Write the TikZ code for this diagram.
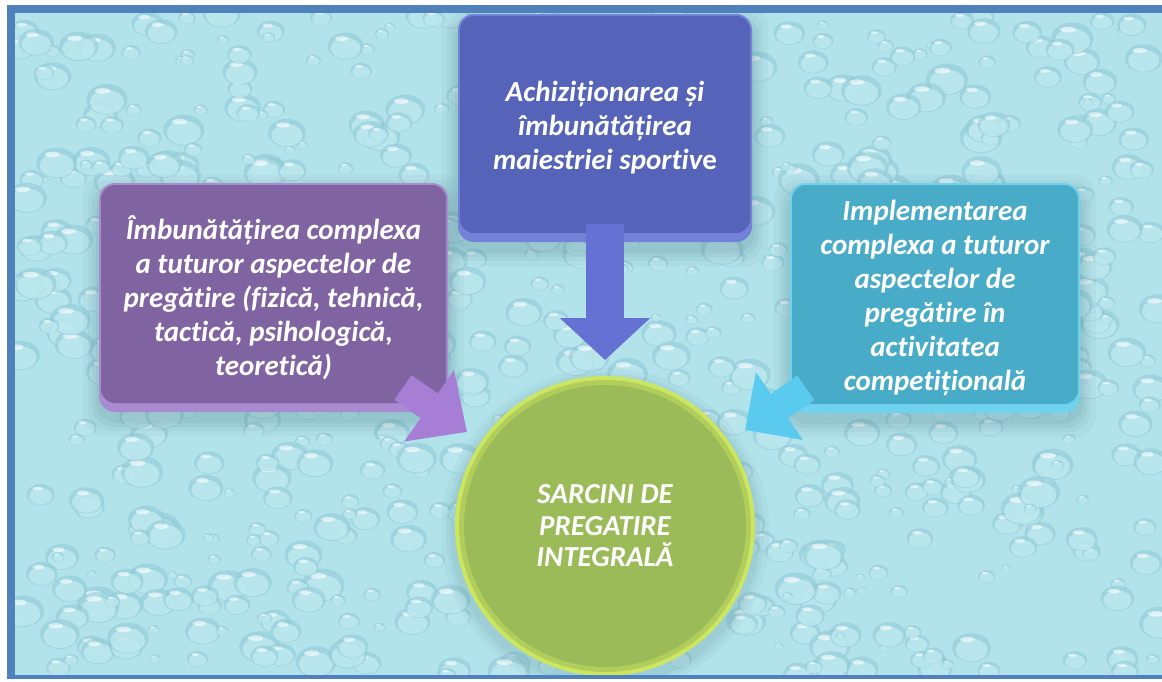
\documentclass[tikz,border=0pt]{standalone}
\usepackage{fontspec}
\setmainfont[Ligatures=NoCommon]{Carlito}
\usetikzlibrary{arrows.meta,calc}

\definecolor{frameblue}{HTML}{4F81BD}
\definecolor{water}{HTML}{B2E2EA}
\definecolor{dropedge}{HTML}{92CCD8}
\definecolor{dropbody}{HTML}{C3ECF2}
\definecolor{pbase}{HTML}{8064A2}
\definecolor{plight}{HTML}{A98BD0}
\definecolor{parrow}{HTML}{A67ED6}
\definecolor{bbase}{HTML}{5563B8}
\definecolor{blight}{HTML}{7381D8}
\definecolor{barrow}{HTML}{6572D4}
\definecolor{cbase}{HTML}{48ABC8}
\definecolor{clight}{HTML}{70D2EE}
\definecolor{carrow}{HTML}{5ACBEE}
\definecolor{gbase}{HTML}{9BBB59}
\definecolor{glight}{HTML}{CDE660}
\definecolor{shadecol}{HTML}{3E6E78}

\pgfdeclarelayer{texture}
\pgfdeclarelayer{shade}
\pgfdeclarelayer{rim}
\pgfsetlayers{texture,shade,main,rim}

\begin{document}
\begin{tikzpicture}[x=1pt,y=-1pt,
  label text/.style={text=white, align=center,
    font=\fontsize{29}{34}\selectfont\bfseries\itshape},
  task/.style 2 args={label text, inner sep=0pt, rounded corners=16pt, fill=#1,
    path picture={\fill[#2, rounded corners=14pt]
      ([xshift=2pt,yshift=-2pt]path picture bounding box.north west) rectangle
      ([xshift=-2pt,yshift=9pt]path picture bounding box.south east);}},
  hub/.style={label text, font=\fontsize{29}{31.5}\selectfont\bfseries\itshape,
    circle, inner sep=0pt, minimum size=300pt, fill=glight,
    path picture={
      \fill[gbase!55!glight] (path picture bounding box.center) circle (146pt);
      \fill[gbase] (path picture bounding box.center) circle (141pt);}},
  fat/.style 2 args={draw=#1, line width=#2, line cap=butt}
]

% ---- frame and water-drop backdrop ----
\begin{pgfonlayer}{texture}
  \fill[white] (0,0) rectangle (1162,681);
  \fill[frameblue] (7,5) rectangle (1162,679);
  \fill[water] (15,13) rectangle (1162,675);
  \begin{scope}
    \clip (15,13) rectangle (1162,675);
    \pgfmathsetseed{4711}
    \foreach \i in {1,...,760}{
      \pgfmathsetmacro\dx{15+1147*rnd}
      \pgfmathsetmacro\dy{13+662*rnd}
      \pgfmathsetmacro\dr{4+14*rnd}
      \pgfmathsetmacro\rx{\dr*1.2}
      \pgfmathsetmacro\ry{\dr*0.9}
      \pgfmathsetmacro\ix{\dr*1.0}
      \pgfmathsetmacro\iy{\dr*0.7}
      \pgfmathsetmacro\hx{\dr*0.45}
      \pgfmathsetmacro\hy{\dr*0.16}
      \fill[dropedge, opacity=.6]
        (\dx,\dy) ellipse [x radius=\rx pt, y radius=\ry pt];
      \fill[dropbody, opacity=.75]
        (\dx,\dy+\dr*0.15) ellipse [x radius=\ix pt, y radius=\iy pt];
      \fill[white, opacity=.6]
        (\dx-\dr*0.25,\dy-\dr*0.5) ellipse [x radius=\hx pt, y radius=\hy pt];
    }
  \end{scope}
\end{pgfonlayer}

% ---- task boxes and the central circle ----
\node[task={plight}{pbase}, minimum width=349pt, minimum height=229pt]
  (phys) at (273.5,297.5)
  {Îmbunătățirea complexa\\a tuturor aspectelor de\\pregătire (fizică, tehnică,\\tactică, psihologică,\\teoretică)};
\node[task={blight}{bbase}, minimum width=294pt, minimum height=228pt]
  (sport) at (605,128)
  {Achiziționarea și\\îmbunătățirea\\maiestriei sportiv{\upshape e}};
\node[task={clight}{cbase}, minimum width=290pt, minimum height=230pt]
  (comp) at (935,298)
  {Implementarea\\complexa a tuturor\\aspectelor de\\pregătire în\\activitatea\\competițională};
\node[hub] (core) at (605,526) {SARCINI DE\\PREGATIRE\\INTEGRALĂ};

% ---- soft shadows under the shapes ----
\begin{pgfonlayer}{shade}
  \begin{scope}
    \clip (15,13) rectangle (1162,675);
    \foreach \n in {phys,sport,comp}{
      \foreach \s/\o in {16/.05,11/.06,7/.07,3/.08}{
        \fill[shadecol, opacity=\o, rounded corners=22pt]
          ($(\n.north west)+(-\s,-\s+8)$) rectangle ($(\n.south east)+(\s,\s+8)$);
      }
    }
    \foreach \s/\o in {14/.05,9/.06,5/.07}{
      \fill[shadecol, opacity=\o] ($(core.center)+(0,6)$) circle (150pt+\s pt);
    }
  \end{scope}
\end{pgfonlayer}

% ---- block arrows into the circle ----
\coordinate (ptip) at (467,432);
\coordinate (stip) at (605,360);
\coordinate (ctip) at (745,430);

\draw[fat={parrow}{30pt}, -{Triangle[width=84pt,length=46pt]}]
  ($(ptip)!78pt!(phys.center)$) -- (ptip);
\draw[fat={barrow}{38pt}, -{Triangle[width=88pt,length=42pt]}]
  ($(stip)!136pt!(sport.center)$) -- (stip);
\draw[fat={carrow}{30pt}, -{Triangle[width=80pt,length=42pt]}]
  ($(ctip)!74pt!(comp.center)$) -- (ctip);

% ---- bottom edge of the frame runs over the circle ----
\begin{pgfonlayer}{rim}
  \fill[frameblue] (7,675) rectangle (1162,679);
  \fill[white] (0,679) rectangle (1162,681);
\end{pgfonlayer}

\end{tikzpicture}
\end{document}
